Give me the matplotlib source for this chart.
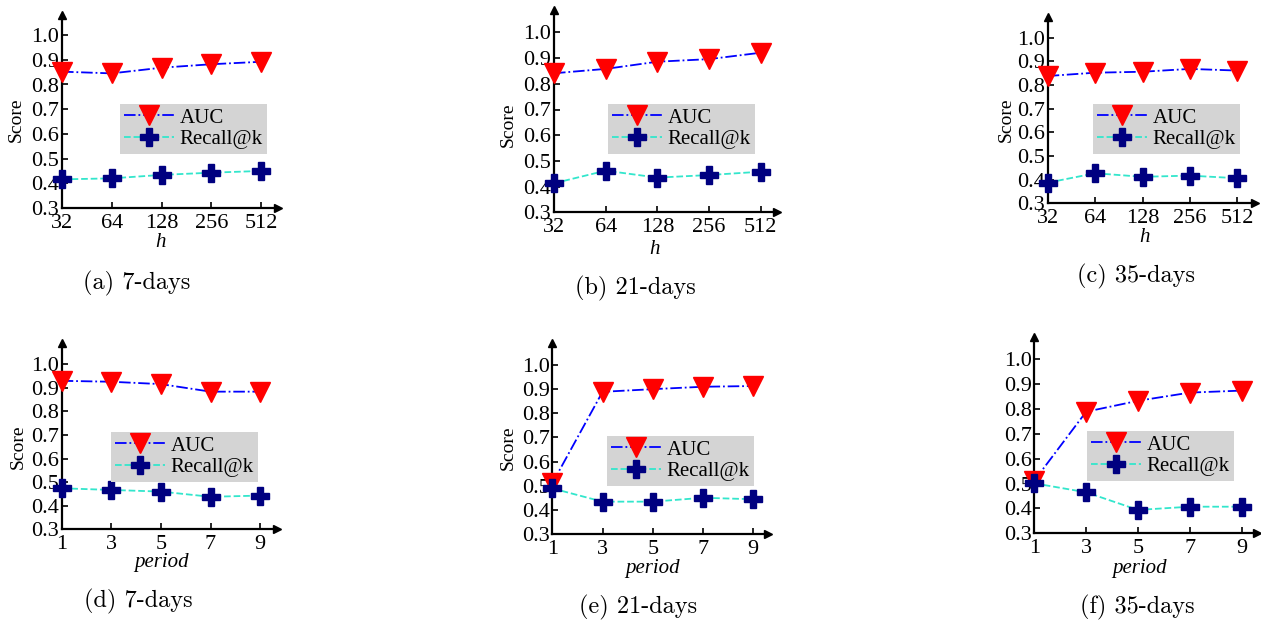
import matplotlib
matplotlib.use("Agg")
import matplotlib.pyplot as plt

W, H = 1261, 624

# ---- data ----
h_labels = ["32", "64", "128", "256", "512"]
period_labels = ["1", "3", "5", "7", "9"]

auc_a = [0.852, 0.845, 0.868, 0.882, 0.892]
rec_a = [0.416, 0.420, 0.434, 0.443, 0.450]
auc_b = [0.841, 0.858, 0.886, 0.896, 0.921]
rec_b = [0.413, 0.462, 0.435, 0.445, 0.458]
auc_c = [0.838, 0.852, 0.856, 0.868, 0.861]
rec_c = [0.387, 0.427, 0.412, 0.417, 0.406]
auc_d = [0.930, 0.926, 0.916, 0.884, 0.884]
rec_d = [0.474, 0.467, 0.460, 0.438, 0.443]
auc_e = [0.510, 0.889, 0.900, 0.910, 0.913]
rec_e = [0.489, 0.434, 0.434, 0.450, 0.444]
auc_f = [0.512, 0.789, 0.833, 0.866, 0.874]
rec_f = [0.501, 0.465, 0.394, 0.407, 0.407]

captions = ["(a) 7-days", "(b) 21-days", "(c) 35-days",
            "(d) 7-days", "(e) 21-days", "(f) 35-days"]
yticks = [0.3, 0.4, 0.5, 0.6, 0.7, 0.8, 0.9, 1.0]

# ---- layout (pixels) ----
panels = [
    dict(l=62, b=208, r=278, t=15, sy=24.7, sx=49.75, xl=h_labels, auc=auc_a, rec=rec_a, xlab="h",
         xlab_pos=(161, 243), ylab_pos=(16, 120), cap_pos=(137, 283), leg=(120, 104)),
    dict(l=554, b=212.3, r=777, t=10, sy=25.7, sx=51.7, xl=h_labels, auc=auc_b, rec=rec_b, xlab="h",
         xlab_pos=(655, 250), ylab_pos=(508, 125), cap_pos=(635, 288), leg=(608, 104)),
    dict(l=1047.7, b=203.3, r=1255, t=16.7, sy=23.66, sx=47.4, xl=h_labels, auc=auc_c, rec=rec_c, xlab="h",
         xlab_pos=(1145, 238), ylab_pos=(1006, 120), cap_pos=(1136, 276), leg=(1093, 104)),
    dict(l=61.7, b=529.3, r=276.7, t=342.7, sy=23.57, sx=49.6, xl=period_labels, auc=auc_d, rec=rec_d, xlab="period",
         xlab_pos=(162, 562), ylab_pos=(18, 447), cap_pos=(138, 601), leg=(111, 432)),
    dict(l=552.3, b=534, r=768, t=342.7, sy=24.14, sx=50.25, xl=period_labels, auc=auc_e, rec=rec_e, xlab="period",
         xlab_pos=(653, 568), ylab_pos=(508, 448), cap_pos=(638, 607), leg=(607, 436)),
    dict(l=1034.3, b=533.3, r=1256.7, t=336.7, sy=24.86, sx=51.85, xl=period_labels, auc=auc_f, rec=rec_f, xlab="period",
         xlab_pos=(1140, 568), ylab_pos=None, cap_pos=(1137, 607), leg=(1087, 431)),
]

serif = ["Liberation Serif", "DejaVu Serif"]
cap_font = ["cmr10", "DejaVu Serif"]

fig = plt.figure(figsize=(W / 100, H / 100), dpi=100)
fig.patch.set_facecolor("white")

for i, p in enumerate(panels):
    left = p["l"] / W
    bottom = 1 - p["b"] / H
    width = (p["r"] - p["l"]) / W
    height = (p["b"] - p["t"]) / H
    ax = fig.add_axes([left, bottom, width, height])
    ymax = 0.3 + (p["b"] - p["t"]) / p["sy"] * 0.1
    xmax = (p["r"] - p["l"]) / p["sx"]
    ax.set_ylim(0.3, ymax)
    ax.set_xlim(0, xmax)
    x = list(range(len(p["xl"])))

    ax.plot(x, p["auc"], color="#0000ff", linestyle="-.", linewidth=1.3,
            marker="v", markersize=14, markerfacecolor="#ff0000",
            markeredgecolor="#ff0000", label="AUC", clip_on=False, zorder=3)
    ax.plot(x, p["rec"], color="#33e6cc", linestyle="--", linewidth=1.3,
            marker="P", markersize=12.5, markerfacecolor="#000080",
            markeredgecolor="#000080", label="Recall@k", clip_on=False, zorder=3)

    for s in ["top", "right"]:
        ax.spines[s].set_visible(False)
    for s in ["left", "bottom"]:
        ax.spines[s].set_linewidth(1.6)
        ax.spines[s].set_color("black")
    ax.plot([0], [1], marker="^", color="black", markersize=6,
            transform=ax.transAxes, clip_on=False, zorder=5)
    ax.plot([1], [0], marker=">", color="black", markersize=6,
            transform=ax.transAxes, clip_on=False, zorder=5)

    ax.set_xticks(x)
    ax.set_xticklabels(p["xl"], fontfamily=serif, fontsize=16)
    ax.set_yticks(yticks)
    ax.set_yticklabels([f"{v:.1f}" for v in yticks], fontfamily=serif, fontsize=16)
    ax.tick_params(direction="in", length=4, width=1.2)
    ax.tick_params(axis="x", pad=4)
    ax.tick_params(axis="y", pad=2)
    ax.set_facecolor("white")

    lx0, ly0 = p["leg"]
    leg = ax.legend(loc="upper left",
                    bbox_to_anchor=(lx0 / W, 1 - ly0 / H),
                    bbox_transform=fig.transFigure,
                    prop={"family": serif, "size": 15},
                    frameon=True, fancybox=False, facecolor="#d4d4d4",
                    edgecolor="#d4d4d4", framealpha=1, borderaxespad=0,
                    borderpad=0.2, handlelength=2.4, handletextpad=0.25,
                    labelspacing=0.1)
    leg.get_frame().set_linewidth(0)

    fig.text(p["xlab_pos"][0] / W, 1 - p["xlab_pos"][1] / H, p["xlab"],
             fontfamily=serif, fontstyle="italic", fontsize=15,
             ha="center", va="center")
    if p["ylab_pos"] is not None:
        fig.text(p["ylab_pos"][0] / W, 1 - p["ylab_pos"][1] / H, "Score",
                 fontfamily=serif, fontsize=14, rotation=90,
                 ha="center", va="center")
    fig.text(p["cap_pos"][0] / W, 1 - p["cap_pos"][1] / H, captions[i],
             fontfamily=cap_font, fontsize=17.5, ha="center", va="center")

fig.savefig("out.png", dpi=100, facecolor="white")
